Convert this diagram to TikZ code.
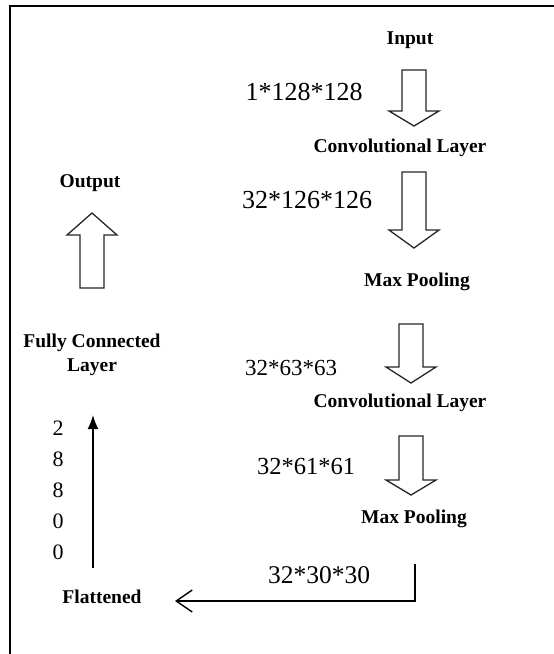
\documentclass[tikz,border=0pt]{standalone}
\usepackage{fontspec}
\setmainfont{Liberation Serif}
\usetikzlibrary{calc,arrows.meta}
\tikzset{
cnn/.style={x=1pt, y=-1pt, line join=miter},
layer/.style={font=\fontsize{19.5}{24}\selectfont\bfseries, align=center, inner sep=0pt},
dims/.style={font=\fontsize{26}{30}\selectfont, inner sep=0pt},
hollow/.style={draw=black!85, line width=1.3pt, fill=white},
thin/.style={line width=1.6pt, -{Latex[length=14pt,width=11pt]}},
elbow/.style={line width=1.4pt, -{Straight Barb[length=16pt,width=22pt]}},
}
% #1 tail, #2 tip, #3 head length (signed)
\newcommand{\hollowarrow}[3]{%
\draw[hollow] ($(#1)+(-12,0)$) -- ($(#1)+(12,0)$) -- ($(#2)+(12,#3)$) -- ($(#2)+(25,#3)$)
  -- (#2) -- ($(#2)+(-25,#3)$) -- ($(#2)+(-12,#3)$) -- cycle;}

\begin{document}
\begin{tikzpicture}[cnn]
\useasboundingbox (0,0) rectangle (554,654);
\draw[line width=2pt] (554,6) -- (10,6) -- (10,654);
%
\node[layer] (input) at (410,40) {Input};
\node[layer] (conv1) at (400,148) {Convolutional Layer};
\node[layer] (pool1) at (417,282) {Max Pooling};
\node[layer] (conv2) at (400,403) {Convolutional Layer};
\node[layer] (pool2) at (414,519) {Max Pooling};
\node[layer] (flat) at (102,597) {Flattened};
\node[layer] (fcl) at (92,355) {Fully Connected\\Layer};
\node[layer] (output) at (90,183) {Output};
%
\node[dims] (d1) at (304,92) {1*128*128};
\node[dims] (d2) at (307,200) {32*126*126};
\node[dims, font=\fontsize{23}{28}\selectfont] (d3) at (291,368) {32*63*63};
\node[dims, font=\fontsize{24.5}{28}\selectfont] (d4) at (306,467) {32*61*61};
\node[dims, font=\fontsize{25.5}{28}\selectfont] (d5) at (319,575) {32*30*30};
\node[dims, font=\fontsize{22}{31}\selectfont, align=center] (len) at (58,490) {2\\8\\8\\0\\0};
%
\coordinate (a1) at (414,70);  \coordinate (b1) at (414,126);
\coordinate (a2) at (414,172); \coordinate (b2) at (414,248);
\coordinate (a3) at (411,324); \coordinate (b3) at (411,383);
\coordinate (a4) at (411,436); \coordinate (b4) at (411,495);
\coordinate (a5) at (92,288);  \coordinate (b5) at (92,213);
\hollowarrow{a1}{b1}{-15}
\hollowarrow{a2}{b2}{-18}
\hollowarrow{a3}{b3}{-16}
\hollowarrow{a4}{b4}{-15}
\hollowarrow{a5}{b5}{22}
%
\coordinate (e1) at (415,564);
\coordinate (e2) at (175,601);
\draw[elbow] (e1) |- (e2);
\coordinate (f1) at (93,568);
\coordinate (f2) at (93,415);
\draw[thin] (f1) -- (f2);
\end{tikzpicture}
\end{document}
